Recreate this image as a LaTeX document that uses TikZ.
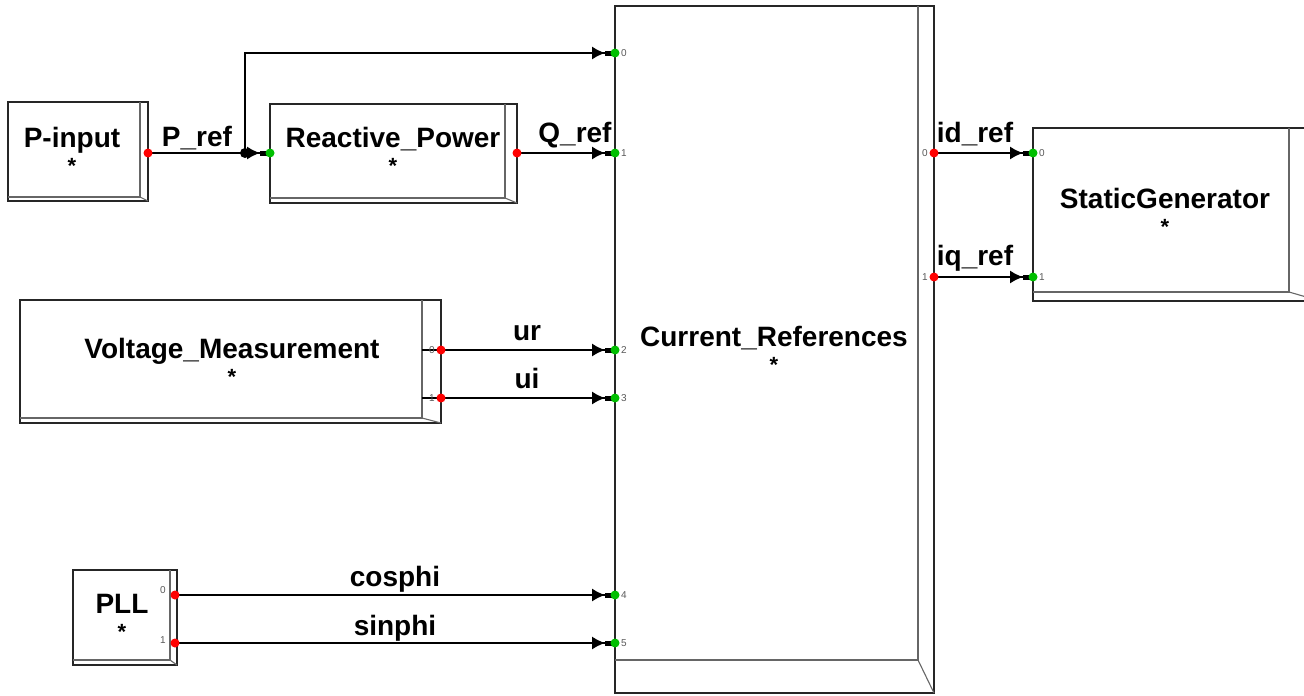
\documentclass[tikz,border=0pt]{standalone}
\usepackage{fontspec}
\setmainfont{Liberation Sans}
\usetikzlibrary{arrows.meta}

\tikzset{
  frame/.style={draw=black!85, line width=1.3pt},
  bevel/.style={draw=black!60, line width=1.1pt},
  wire/.style={line width=1.3pt, shorten >=2pt,
    -{Latex[length=13pt,width=13pt] Rectangle[length=8pt,width=5pt]}},
  plain/.style={line width=1.3pt},
  outdot/.style={circle, fill=red, inner sep=0pt, minimum size=9pt},
  indot/.style={circle, fill=green!75!black, inner sep=0pt, minimum size=9pt},
  joint/.style={circle, fill=black, inner sep=0pt, minimum size=10pt},
  blocklabel/.style={font=\fontsize{28}{26}\selectfont\bfseries, align=center, inner sep=0pt, anchor=north},
  sig/.style={font=\fontsize{28}{29}\selectfont\bfseries, inner sep=0pt, anchor=base},
  portnum/.style={font=\fontsize{10}{10}\selectfont, text=black!65, inner sep=0pt}
}

% box with the shaded inner edge: x1,y1,x2,y2,dx,dy
\newcommand{\blockbox}[6]{%
  \draw[frame] (#1,#2) rectangle (#3,#4);
  \draw[bevel] (#3-#5,#2) -- (#3-#5,#4-#6) -- (#1,#4-#6);
  \draw[bevel] (#3-#5,#4-#6) -- (#3,#4);
}
\newcommand{\blkstar}{{\fontsize{22}{22}\selectfont *}}

\begin{document}
\begin{tikzpicture}[x=1pt,y=-1pt]
\useasboundingbox (0,0) rectangle (1304,696);

% blocks
\blockbox{8}{102}{148}{201}{8}{4}
\blockbox{270}{104}{517}{203}{12}{5}
\blockbox{20}{300}{441}{423}{19}{5}
\blockbox{73}{570}{177}{665}{7}{5}
\blockbox{615}{6}{934}{693}{16}{33}
\blockbox{1033}{128}{1320}{301}{31}{9}

\node[blocklabel] (pin) at (72,127) {P-input\\\blkstar};
\node[blocklabel] (rp) at (393,127) {Reactive\_Power\\\blkstar};
\node[blocklabel] (vm) at (232,338) {Voltage\_Measurement\\\blkstar};
\node[blocklabel] (pll) at (122,594) {PLL\\\blkstar};
\node[blocklabel] (cr) at (774,326) {Current\_References\\\blkstar};
\node[blocklabel] (sg) at (1165,188) {StaticGenerator\\\blkstar};

% ports
\coordinate (pin-o) at (148,153);
\coordinate (rp-i) at (270,153);
\coordinate (rp-o) at (517,153);
\coordinate (vm-s0) at (422,350);
\coordinate (vm-s1) at (422,398);
\coordinate (vm-o0) at (441,350);
\coordinate (vm-o1) at (441,398);
\coordinate (pll-o0) at (175,595);
\coordinate (pll-o1) at (175,643);
\coordinate (cr-o0) at (934,153);
\coordinate (cr-o1) at (934,277);
\coordinate (sg-i0) at (1033,153);
\coordinate (sg-i1) at (1033,277);
\foreach \n/\y in {0/53,1/153,2/350,3/398,4/595,5/643}
  \coordinate (cr-i\n) at (615,\y);
\coordinate (jn) at (245,153);

% connectors
\draw[plain] (pin-o) -- (jn);
\draw[wire] (jn) -- (rp-i);
\draw[wire] (jn) |- (cr-i0);
\draw[wire] (rp-o) -- (cr-i1);
\draw[wire] (vm-s0) -- (cr-i2);
\draw[wire] (vm-s1) -- (cr-i3);
\draw[wire] (pll-o0) -- (cr-i4);
\draw[wire] (pll-o1) -- (cr-i5);
\draw[wire] (cr-o0) -- (sg-i0);
\draw[wire] (cr-o1) -- (sg-i1);

% dots
\node[joint] (jn-d) at (jn) {};
\node[outdot] (pin-d) at (pin-o) {};
\node[indot] (rp-di) at (rp-i) {};
\node[outdot] (rp-do) at (rp-o) {};
\node[outdot] (vm-d0) at (vm-o0) {};
\node[outdot] (vm-d1) at (vm-o1) {};
\node[outdot] (pll-d0) at (pll-o0) {};
\node[outdot] (pll-d1) at (pll-o1) {};
\node[outdot] (cr-do0) at (cr-o0) {};
\node[outdot] (cr-do1) at (cr-o1) {};
\node[indot] (sg-d0) at (sg-i0) {};
\node[indot] (sg-d1) at (sg-i1) {};
\foreach \n in {0,...,5}
  \node[indot] (cr-di\n) at (cr-i\n) {};

% port numbers
\foreach \n/\y in {0/53,1/153,2/350,3/398,4/595,5/643}
  \node[portnum, anchor=west] (cr-n\n) at (621,\y) {\n};
\node[portnum, anchor=east] (cr-m0) at (928,153) {0};
\node[portnum, anchor=east] (cr-m1) at (928,277) {1};
\node[portnum, anchor=west] (sg-n0) at (1039,153) {0};
\node[portnum, anchor=west] (sg-n1) at (1039,277) {1};
\node[portnum, anchor=east] (vm-n0) at (435,350) {0};
\node[portnum, anchor=east] (vm-n1) at (435,398) {1};
\node[portnum, anchor=east] (pll-n0) at (166,590) {0};
\node[portnum, anchor=east] (pll-n1) at (166,640) {1};

% signal names
\node[sig] (l-pref) at (197,146) {P\_ref};
\node[sig] (l-qref) at (575,142) {Q\_ref};
\node[sig] (l-idref) at (975,142) {id\_ref};
\node[sig] (l-iqref) at (975,265) {iq\_ref};
\node[sig] (l-ur) at (527,340) {ur};
\node[sig] (l-ui) at (527,388) {ui};
\node[sig] (l-cos) at (395,586) {cosphi};
\node[sig] (l-sin) at (395,635) {sinphi};
\end{tikzpicture}
\end{document}
